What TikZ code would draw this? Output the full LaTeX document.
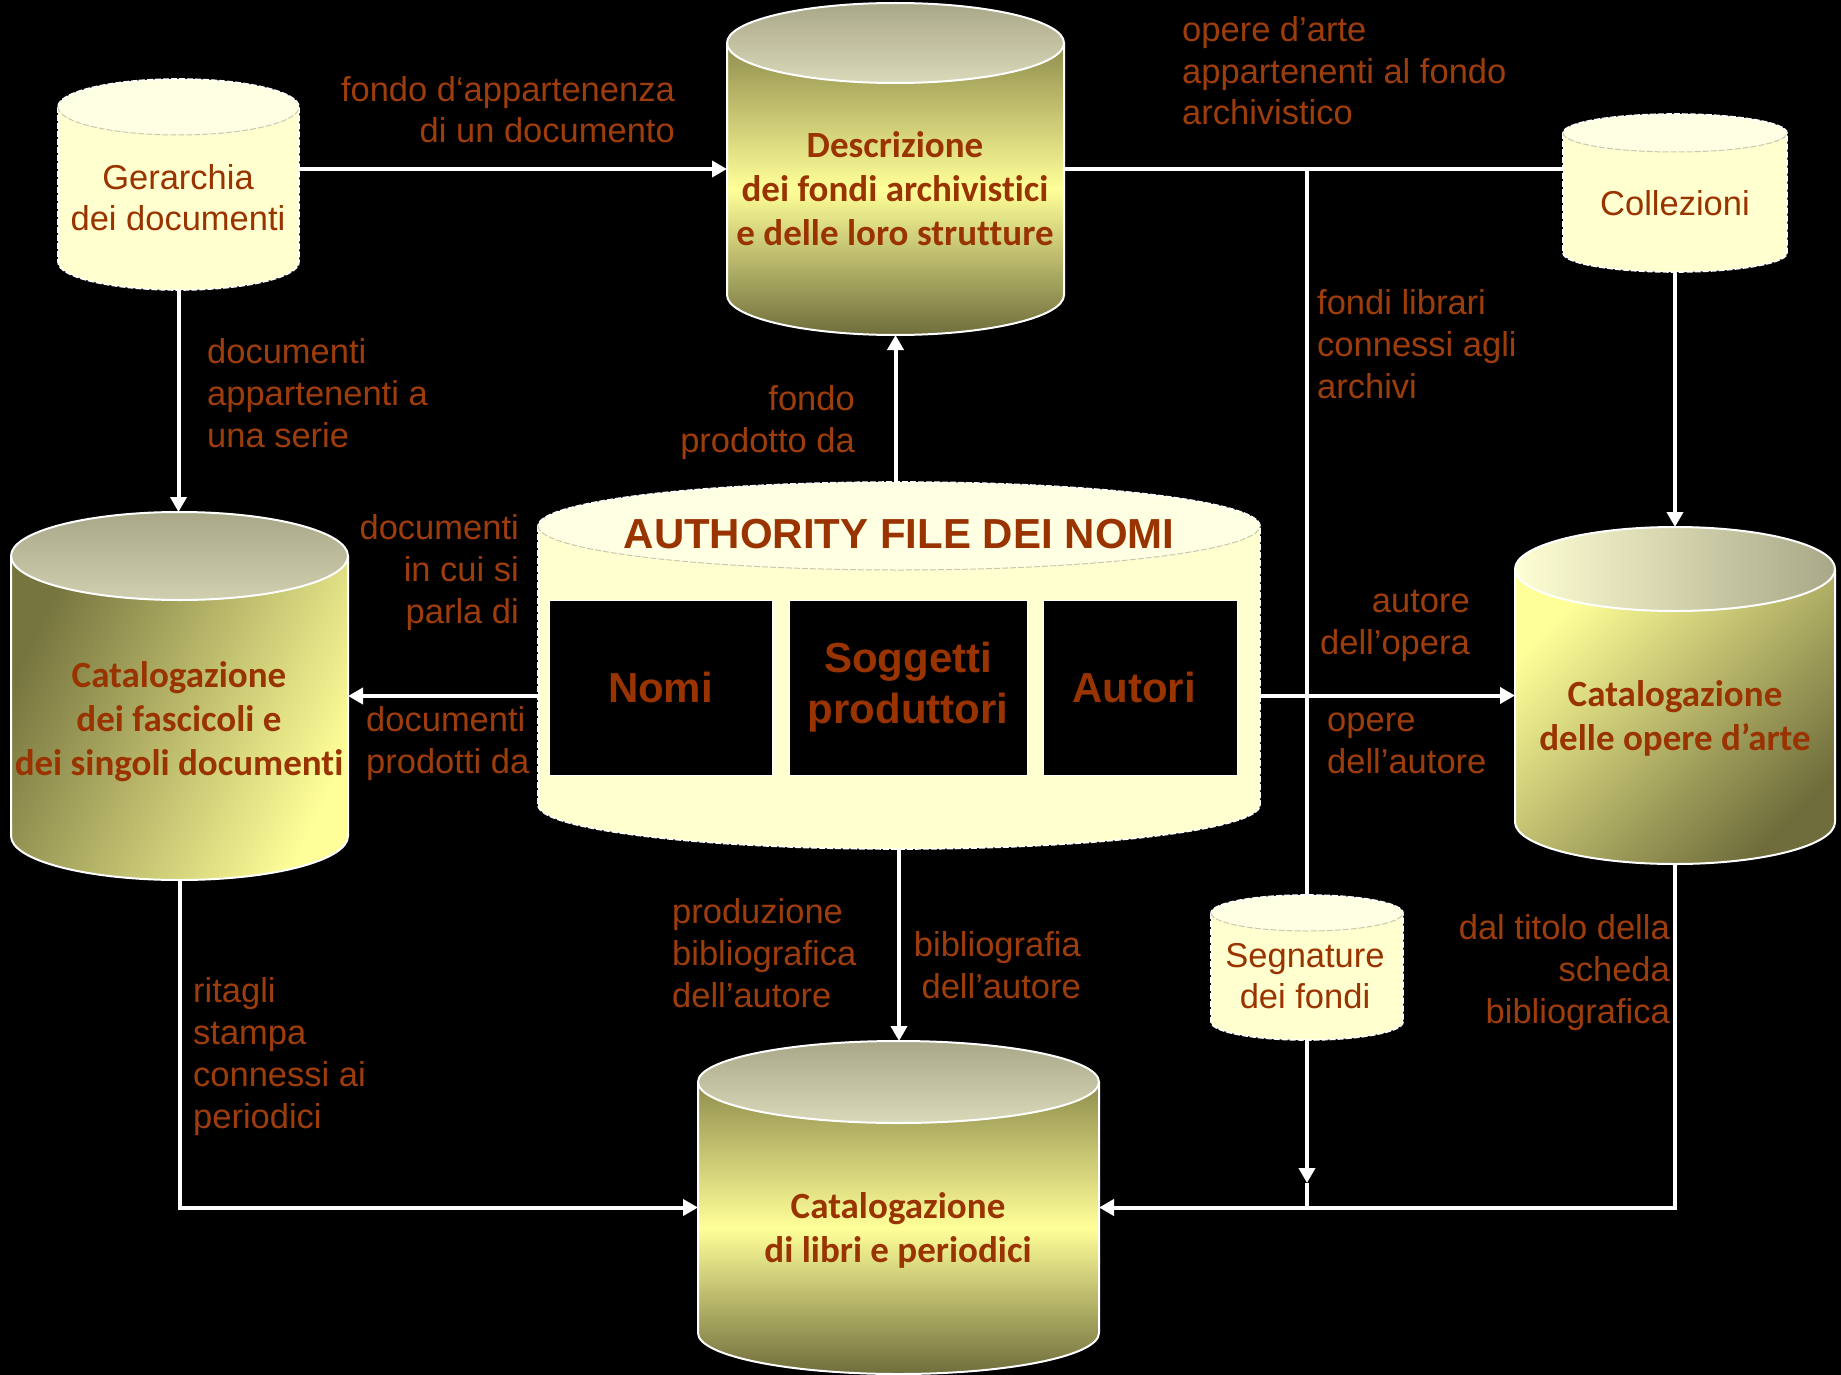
\documentclass[tikz,border=0pt]{standalone}
\usepackage{fontspec}
\setmainfont{Liberation Sans}
\newfontfamily\calib[Ligatures=NoCommon]{Carlito}
\usetikzlibrary{arrows.meta}

\definecolor{textc}{HTML}{993300}
\definecolor{labelc}{HTML}{9E3D0C}
\definecolor{lightbody}{HTML}{FFFFD0}
\definecolor{lighttop}{HTML}{FFFFE4}
\definecolor{seamc}{HTML}{C8C8B0}
\definecolor{ybright}{HTML}{FFFF99}
\definecolor{olivetop}{HTML}{8F8D4C}
\definecolor{olivebot}{HTML}{6F6D3B}
\definecolor{olivedark}{HTML}{77753F}
\definecolor{capdark}{HTML}{A8A787}
\definecolor{caplight}{HTML}{DAD9BA}
\definecolor{capbright}{HTML}{FFFFD4}

% shaded database cylinder: name, cx, top cy, bottom cy, rx, ry, body style, cap style
\newcommand{\solidcyl}[8]{%
  \path[#7] ({#2-#5},#3) -- ({#2-#5},#4)
    arc[start angle=180,end angle=360,x radius=#5pt,y radius=#6pt]
    -- ({#2+#5},#3) -- cycle;
  \path[#8] (#2,#3) ellipse[x radius=#5pt,y radius=#6pt];
  \draw[cylrim] ({#2-#5},#3) -- ({#2-#5},#4)
    arc[start angle=180,end angle=360,x radius=#5pt,y radius=#6pt]
    -- ({#2+#5},#3);
  \draw[cylrim] (#2,#3) ellipse[x radius=#5pt,y radius=#6pt];
  \node[cylframe, minimum width={2*#5pt}, minimum height={(#4-#3+2*#6)*1pt}]
    (#1) at (#2,{(#3+#4)/2}) {};
}

% pale cylinder with a dashed rim: name, cx, top cy, bottom cy, rx, ry
\newcommand{\lightcyl}[6]{%
  \path[fill=lightbody] ({#2-#5},#3) -- ({#2-#5},#4)
    arc[start angle=180,end angle=360,x radius=#5pt,y radius=#6pt]
    -- ({#2+#5},#3)
    arc[start angle=0,end angle=180,x radius=#5pt,y radius=#6pt] -- cycle;
  \path[fill=lighttop] (#2,#3) ellipse[x radius=#5pt,y radius=#6pt];
  \draw[lightrim] ({#2-#5},#3) -- ({#2-#5},#4)
    arc[start angle=180,end angle=360,x radius=#5pt,y radius=#6pt]
    -- ({#2+#5},#3)
    arc[start angle=0,end angle=180,x radius=#5pt,y radius=#6pt] -- cycle;
  \draw[lightseam] ({#2-#5},#3)
    arc[start angle=180,end angle=360,x radius=#5pt,y radius=#6pt];
  \node[cylframe, minimum width={2*#5pt}, minimum height={(#4-#3+2*#6)*1pt}]
    (#1) at (#2,{(#3+#4)/2}) {};
}

\tikzset{
  cylframe/.style={rectangle, draw=none, inner sep=0pt, outer sep=0pt},
  cylrim/.style={draw=white, line width=2pt},
  lightrim/.style={draw=white, line width=1.6pt, dash pattern=on 6pt off 2pt},
  lightseam/.style={draw=seamc, line width=1pt, dash pattern=on 6pt off 2pt},
  boldtitle/.style={text=textc, font=\calib\bfseries\fontsize{37}{44}\selectfont,
    align=center, inner sep=0pt, anchor=base},
  plaintitle/.style={text=textc, font=\fontsize{34.5}{41}\selectfont,
    align=center, inner sep=0pt, anchor=base},
  innerbox/.style={fill=black, draw=white, line width=1pt, text=textc,
    font=\bfseries\fontsize{42}{51}\selectfont, align=center, inner sep=0pt},
  lab/.style={text=labelc, font=\fontsize{34.5}{41.8}\selectfont, inner sep=0pt},
  labl/.style={lab, align=left, anchor=base west},
  labr/.style={lab, align=right, anchor=base east},
  wire/.style={draw=white, line width=4pt},
  arr/.style={wire, -{Triangle[length=15pt,width=16pt]}},
}

\begin{document}
\begin{tikzpicture}[x=1pt, y=-1pt]
  \fill[black] (0,0) rectangle (1841,1375);
  \useasboundingbox (0,0) rectangle (1841,1375);

  \coordinate (segtip) at (1307,1183);

  % cylinders
  \lightcyl{ger}{178.5}{107}{262}{120.5}{28}
  \solidcyl{desc}{895.5}{43}{295}{168.5}{40}
    {top color=olivetop, bottom color=olivebot, middle color=ybright}
    {top color=capdark, bottom color=caplight}
  \lightcyl{coll}{1675}{133}{253}{112}{19}
  \solidcyl{fasc}{179.5}{556}{836}{168.5}{44}
    {top color=olivedark, bottom color=ybright, shading angle=65}
    {top color=capdark, bottom color=caplight!80!capdark}
  \lightcyl{auth}{899}{526}{805}{361}{44}
  \solidcyl{opere}{1675}{569}{822}{160}{42}
    {top color=ybright, bottom color=olivebot, shading angle=45}
    {left color=capbright, right color=capdark}
  \solidcyl{libri}{898.5}{1082}{1333}{200.5}{41}
    {top color=olivetop, bottom color=olivebot, middle color=ybright}
    {top color=capdark, bottom color=caplight}
  \lightcyl{seg}{1307}{913}{1022}{96}{18}

  % connectors
  \coordinate (j1) at (seg.north |- desc.east);
  \draw[arr] (ger.east |- desc.west) -- (desc.west);
  \draw[arr] (ger.south) -- (ger.south |- fasc.north);
  \draw[arr] (desc.south |- auth.north) -- (desc.south);
  \draw[arr] (auth.west |- fasc.east) -- (fasc.east);
  \draw[arr] (auth.east |- opere.west) -- (opere.west);
  \draw[arr] (auth.south) -- (auth.south |- libri.north);
  \draw[arr] (fasc.south) -- (fasc.south |- libri.west) -- (libri.west);
  \draw[wire] (desc.east) -- (desc.east -| coll.west);
  \draw[wire] (j1) -- (seg.north);
  \draw[arr] (seg.south) -- (segtip);
  \draw[wire] (segtip) -- (segtip |- libri.east);
  \draw[arr] (coll.south) -- (opere.north);
  \draw[arr] (opere.south) -- (opere.south |- libri.east) -- (libri.east);

  % texts inside the cylinders (anchored at the last baseline)
  \node[plaintitle] (gerT) at (178,230) {Gerarchia\\dei documenti};
  \node[boldtitle] (descT) at (895,245) {Descrizione\\dei fondi archivistici\\e delle loro strutture};
  \node[plaintitle] (collT) at (1675,215) {Collezioni};
  \node[boldtitle] (fascT) at (179,775) {Catalogazione\\dei fascicoli e\\dei singoli documenti};
  \node[text=textc, font=\bfseries\fontsize{42}{50}\selectfont, inner sep=0pt, anchor=base]
    (authT) at (899,548) {AUTHORITY FILE DEI NOMI};
  \node[boldtitle] (opereT) at (1675,750) {Catalogazione\\delle opere d’arte};
  \node[boldtitle] (libriT) at (898,1262) {Catalogazione\\di libri e periodici};
  \node[plaintitle] (segT) at (1305,1008) {Segnature\\dei fondi};

  % the three sections of the authority file
  \node[innerbox, minimum width=223pt, minimum height=175pt] (nomi) at (660.5,687.5) {Nomi};
  \node[innerbox, minimum width=238pt, minimum height=175pt] (sogg) at (908,687.5) {Soggetti\\produttori};
  \node[innerbox, minimum width=194pt, minimum height=175pt] (autori) at (1140,687.5) {\hspace*{-12pt}Autori};

  % connector labels (anchored at the last baseline)
  \node[labr] (l1) at (675,143) {fondo d‘appartenenza\\di un documento};
  \node[labl] (l2) at (1182,125) {opere d’arte\\appartenenti al fondo\\archivistico};
  \node[labl] (l3) at (207,447) {documenti\\appartenenti a\\una serie};
  \node[labr] (l4) at (855,452) {fondo\\prodotto da};
  \node[labl] (l5) at (1317,398) {fondi librari\\connessi agli\\archivi};
  \node[labr] (l6) at (519,623) {documenti\\in cui si\\parla di};
  \node[labl] (l7) at (366,773) {documenti\\prodotti da};
  \node[labr] (l8) at (1470,654) {autore\\dell’opera};
  \node[labl] (l9) at (1327,773) {opere\\dell’autore};
  \node[labl] (l10) at (672,1007) {produzione\\bibliografica\\dell’autore};
  \node[labr] (l11) at (1081,998) {bibliografia\\dell’autore};
  \node[labr] (l12) at (1670,1023) {dal titolo della\\scheda\\bibliografica};
  \node[labl] (l13) at (193,1128) {ritagli\\stampa\\connessi ai\\periodici};
\end{tikzpicture}
\end{document}
